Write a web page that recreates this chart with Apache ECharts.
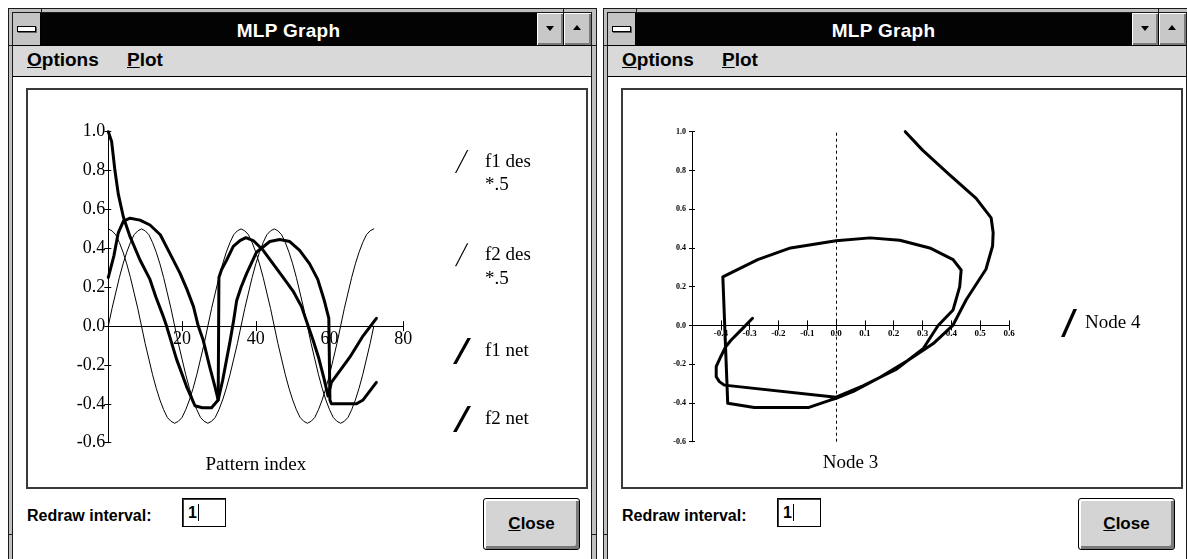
<!DOCTYPE html>
<html>
<head>
<meta charset="utf-8">
<title>MLP Graph</title>
<script src="https://cdn.jsdelivr.net/npm/echarts@6.0.0/dist/echarts.min.js"></script>
<style>
html,body{margin:0;padding:0;}
body{width:1187px;height:559px;overflow:hidden;background:#fff;position:relative;font-family:"Liberation Sans",Arial,sans-serif;}
.win{position:absolute;top:0;width:600px;height:559px;}
.a{position:absolute;box-sizing:border-box;}
.frame{left:8px;top:8px;width:589px;height:600px;background:#c0c0c0;border:1px solid #1a1a1a;}
.inner{left:12px;top:12px;width:580px;height:600px;background:#fff;border:1px solid #1a1a1a;}
.title{left:13px;top:13px;width:578px;height:32px;background:#030303;}
.sys{left:13px;top:13px;width:28px;height:32px;background:#c4c4c4;border-right:1px solid #000;}
.sysbar{left:4px;top:13px;width:19px;height:6px;background:#fff;border:1px solid #000;box-shadow:1px 1px 0 #606060;}
.caption{left:41px;top:13px;width:495px;height:32px;color:#fff;font-weight:bold;font-size:19px;line-height:32px;text-align:center;padding-top:2px;letter-spacing:0.3px;}
.btn{top:13px;height:32px;background:#c8c8c8;border-left:1px solid #000;box-shadow:inset 1px 1px 0 #fff,inset -2px -2px 0 #7a7a7a;}
.tri-d{left:9px;top:13px;width:0;height:0;border-left:4px solid transparent;border-right:4px solid transparent;border-top:5px solid #000;}
.tri-u{left:9px;top:12px;width:0;height:0;border-left:4px solid transparent;border-right:4px solid transparent;border-bottom:5px solid #000;}
.menu{left:13px;top:45px;width:578px;height:32px;background:#d9d9d9;border-top:1px solid #000;border-bottom:1px solid #000;}
.mtxt{top:50px;font-size:19px;font-weight:bold;line-height:20px;color:#000;white-space:nowrap;}
.panel{left:26px;top:88px;width:562px;height:401px;border:2px solid #3a3a3a;background:#fff;}
.lbl{left:27px;top:507px;font-size:16px;font-weight:bold;line-height:18px;color:#000;white-space:nowrap;}
.inp{left:182px;top:498px;width:44px;height:29px;border:1px solid #000;box-shadow:inset 1px 1px 0 #404040;background:#fff;font-size:16px;font-weight:bold;line-height:27px;padding-left:5px;color:#000;}
.caret{display:inline-block;width:1px;height:17px;background:#000;vertical-align:-3px;margin-left:1px;}
.close{left:483px;top:498px;width:97px;height:52px;background:#d4d4d4;border:1px solid #000;border-radius:3px;box-shadow:inset 2px 2px 0 #fff,inset -3px -3px 0 #7a7a7a;font-size:17px;font-weight:bold;line-height:50px;text-align:center;color:#000;}
.n{background:#1a1a1a;}
#chart{position:absolute;left:0;top:0;width:1187px;height:559px;z-index:10;}
</style>
</head>
<body>
<div id="chart"></div>
<script>
// ---------------- data ----------------
// left chart: pattern index 0..72, desired outputs scaled by 0.5
const f1DesHalf = [0,.09,.17,.25,.32,.38,.43,.47,.49,.5,.49,.47,.43,.38,.32,.25,.17,.09,
  0,-.09,-.17,-.25,-.32,-.38,-.43,-.47,-.49,-.5,-.49,-.47,-.43,-.38,-.32,-.25,-.17,-.09,
  0,.09,.17,.25,.32,.38,.43,.47,.49,.5,.49,.47,.43,.38,.32,.25,.17,.09,
  0,-.09,-.17,-.25,-.32,-.38,-.43,-.47,-.49,-.5,-.49,-.47,-.43,-.38,-.32,-.25,-.17,-.09,0];
const f2DesHalf = [.5,.49,.47,.43,.38,.32,.25,.17,.09,0,-.09,-.17,-.25,-.32,-.38,-.43,-.47,-.49,
  -.5,-.49,-.47,-.43,-.38,-.32,-.25,-.17,-.09,0,.09,.17,.25,.32,.38,.43,.47,.49,
  .5,.49,.47,.43,.38,.32,.25,.17,.09,0,-.09,-.17,-.25,-.32,-.38,-.43,-.47,-.49,
  -.5,-.49,-.47,-.43,-.38,-.32,-.25,-.17,-.09,0,.09,.17,.25,.32,.38,.43,.47,.49,.5];
// network outputs, [pattern index, value]
const f1Net = [[0,0.25],[1.5,0.36],[2.7,0.48],[4.1,0.54],[5.9,0.555],[8.6,0.545],[11.3,0.52],
  [14.1,0.47],[16.8,0.37],[19.5,0.27],[21.3,0.19],[23.1,0.10],[24.4,0.0],[25.7,-0.07],
  [27.5,-0.21],[28.9,-0.31],[29.8,-0.38],[31,-0.28],[32,-0.18],[33,-0.08],[34,0.03],
  [34.8,0.13],[36,0.2],[37.5,0.27],[40.2,0.38],[43.8,0.435],[46.5,0.445],[49.2,0.435],
  [51.9,0.39],[54.6,0.32],[56.8,0.24],[58.6,0.13],[59.8,0.04],[60.1,-0.38],[60.5,-0.40],
  [67.3,-0.40],[69.1,-0.38],[72.7,-0.29]];
const f2Net = [[0,1.0],[0.9,0.95],[1.8,0.80],[2.7,0.68],[4.1,0.56],[5.9,0.46],[8.6,0.34],
  [11.3,0.24],[12.9,0.15],[14.9,0.05],[15.8,0.0],[18.5,-0.17],[21.2,-0.31],[23.5,-0.41],
  [25.5,-0.42],[28,-0.42],[29.8,-0.38],[30,0.25],[30.7,0.29],[32.1,0.34],[33.9,0.41],
  [35.7,0.44],[37.3,0.455],[39.3,0.44],[42,0.39],[44.7,0.32],[47.4,0.25],[50.1,0.18],
  [52.4,0.10],[54.2,0.0],[55.5,-0.07],[57,-0.16],[58.5,-0.27],[59.6,-0.36],[60.5,-0.29],
  [65.5,-0.16],[69.1,-0.05],[72.7,0.04]];
// right chart: trajectory [Node 3, Node 4]
const node3vs4 = [[0.24,1.0],[0.30,0.905],[0.394,0.777],[0.486,0.656],[0.538,0.555],[0.545,0.48],
  [0.543,0.41],[0.52,0.29],[0.452,0.134],[0.405,0.0],[0.34,-0.09],[0.25,-0.18],[0.15,-0.27],
  [0.06,-0.34],[0.0,-0.376],[-0.02,-0.385],[-0.094,-0.423],[-0.284,-0.423],[-0.376,-0.402],
  [-0.393,0.251],[-0.272,0.34],[-0.158,0.40],[0.0,0.437],[0.118,0.452],[0.221,0.44],
  [0.325,0.40],[0.406,0.34],[0.434,0.286],[0.429,0.2],[0.406,0.08],[0.354,0.0],[0.302,-0.12],
  [0.21,-0.225],[0.095,-0.31],[0.0,-0.37],[-0.388,-0.308],[-0.405,-0.29],[-0.416,-0.265],
  [-0.416,-0.213],[-0.40,-0.16],[-0.383,-0.11],[-0.364,-0.075],[-0.33,-0.024],[-0.29,0.037]];
const leftNames = ['f1 des *.5','f2 des *.5','f1 net','f2 net'];
const rightName = 'Node 4';
const leftXName = 'Pattern index';
const rightXName = 'Node 3';

// ---------------- window chrome ----------------
function buildWindow(dx){
  const w = document.createElement('div');
  w.className = 'win';
  w.style.left = dx + 'px';
  w.innerHTML =
    '<div class="a frame"></div>' +
    '<div class="a n" style="left:41px;top:8px;width:1px;height:5px"></div>' +
    '<div class="a n" style="left:563px;top:8px;width:1px;height:5px"></div>' +
    '<div class="a n" style="left:8px;top:45px;width:5px;height:1px"></div>' +
    '<div class="a n" style="left:591px;top:45px;width:6px;height:1px"></div>' +
    '<div class="a n" style="left:8px;top:534px;width:5px;height:1px"></div>' +
    '<div class="a n" style="left:591px;top:534px;width:6px;height:1px"></div>' +
    '<div class="a inner"></div>' +
    '<div class="a title"></div>' +
    '<div class="a sys"><div class="a sysbar"></div></div>' +
    '<div class="a caption">MLP Graph</div>' +
    '<div class="a btn" style="left:536px;width:27px"><div class="a tri-d"></div></div>' +
    '<div class="a btn" style="left:563px;width:28px"><div class="a tri-u"></div></div>' +
    '<div class="a menu"></div>' +
    '<div class="a mtxt" style="left:27px"><u>O</u>ptions</div>' +
    '<div class="a mtxt" style="left:127px"><u>P</u>lot</div>' +
    '<div class="a panel"></div>' +
    '<div class="a lbl">Redraw interval:</div>' +
    '<div class="a inp">1<span class="caret"></span></div>' +
    '<div class="a close"><u>C</u>lose</div>';
  document.body.insertBefore(w, document.getElementById('chart'));
}
buildWindow(0);
buildWindow(595);

// ---------------- chart ----------------
const serif = '"Liberation Serif","Times New Roman",serif';
const blk = '#000';
const chart = echarts.init(document.getElementById('chart'), null, {renderer: 'canvas'});

function fmt1(v){ return (Math.abs(v) < 1e-9 ? 0 : v).toFixed(1); }

// geometry of the two plot areas (pixels)
const L = {left: 108.3, top: 131.7, width: 295, height: 311, zeroY: 326.1};
const R = {left: 692, top: 131.7, width: 317, height: 310, zeroY: 325.4};

function hiddenX(grid, min, max){
  return {gridIndex: grid, type: 'value', min: min, max: max, show: false};
}
function hiddenY(grid, min, max){
  return {gridIndex: grid, type: 'value', min: min, max: max, show: false};
}
function shownX(grid, min, max, interval, position, label, extra){
  return Object.assign({
    gridIndex: grid, type: 'value', min: min, max: max, interval: interval, position: position,
    axisLine: {show: true, onZero: false, lineStyle: {color: blk, width: 1}},
    axisTick: {show: true, inside: false, length: 5, lineStyle: {color: blk, width: 1}},
    axisLabel: label,
    splitLine: {show: false}
  }, extra || {});
}
function shownY(grid, inside, len, label){
  return {
    gridIndex: grid, type: 'value', min: -0.6, max: 1.0, interval: 0.2, position: 'left',
    axisLine: {show: true, onZero: false, lineStyle: {color: blk, width: 1}},
    axisTick: {show: true, inside: inside, length: len, lineStyle: {color: blk, width: 1}},
    axisLabel: label,
    splitLine: {show: false}
  };
}
function lineSeries(name, data, width, xi, yi){
  return {
    name: name, type: 'line', data: data, xAxisIndex: xi, yAxisIndex: yi,
    symbol: 'none', showSymbol: false, clip: false, silent: true,
    emphasis: {disabled: true},
    lineStyle: {color: blk, width: width, join: 'round', cap: 'round'},
    itemStyle: {color: blk}
  };
}
function legendItem(name, left, top, w, h, path, lineHeight){
  return {
    data: [name], left: left, top: top, orient: 'vertical', padding: 0,
    itemWidth: w, itemHeight: h, icon: path, selectedMode: false,
    itemStyle: {color: blk, borderWidth: 0},
    formatter: function(n){ return n.replace(' *.5', '\n*.5'); },
    textStyle: {color: blk, fontFamily: serif, fontSize: 19, lineHeight: lineHeight}
  };
}
const thinIcon = 'path://M0,0M2,23L3.3,23L15.3,0L14,0ZM27,47';
const thickIcon = 'path://M0,0M0,26L3.6,26L18,0L14.4,0ZM27,26';
const nodeIcon = 'path://M0,0M0,28L3.6,28L16,0L12.4,0ZM19,28';

const gridBase = {outerBoundsMode: 'none', containLabel: false};
const option = {
  animation: false,
  backgroundColor: 'transparent',
  grid: [
    Object.assign({left: L.left, top: L.top, width: L.width, height: L.height}, gridBase),
    Object.assign({left: R.left, top: R.top, width: R.width, height: R.height}, gridBase),
    // upper / lower halves: used only to draw the zero-line axes with crossing ticks
    Object.assign({left: L.left, top: L.top, width: L.width, height: L.zeroY - L.top}, gridBase),
    Object.assign({left: L.left, top: L.zeroY, width: L.width, height: L.top + L.height - L.zeroY}, gridBase),
    Object.assign({left: R.left, top: R.top, width: R.width, height: R.zeroY - R.top}, gridBase),
    Object.assign({left: R.left, top: R.zeroY, width: R.width, height: R.top + R.height - R.zeroY}, gridBase)
  ],
  xAxis: [
    hiddenX(0, 0, 80),
    hiddenX(1, -0.5, 0.6),
    shownX(2, 0, 80, 20, 'bottom',
      {show: true, margin: 4, color: blk, fontFamily: serif, fontSize: 18,
       formatter: function(v){ return v === 0 ? '' : String(v); }},
      {name: leftXName, nameLocation: 'middle', nameGap: 129,
       nameTextStyle: {color: blk, fontFamily: serif, fontSize: 19}}),
    shownX(3, 0, 80, 20, 'top', {show: false}),
    shownX(4, -0.5, 0.6, 0.1, 'bottom',
      {show: true, margin: 4, color: blk, fontFamily: serif, fontSize: 9, fontWeight: 'bold',
       formatter: function(v){ return Math.abs(v + 0.5) < 1e-9 ? '' : fmt1(v); }},
      {name: rightXName, nameLocation: 'middle', nameGap: 128,
       nameTextStyle: {color: blk, fontFamily: serif, fontSize: 19}}),
    shownX(5, -0.5, 0.6, 0.1, 'top', {show: false})
  ],
  yAxis: [
    shownY(0, false, 4, {show: true, margin: 3, color: blk, fontFamily: serif, fontSize: 18, formatter: fmt1}),
    shownY(0, true, 3, {show: false}),
    shownY(1, false, 3, {show: true, margin: 6, color: blk, fontFamily: serif, fontSize: 8, fontWeight: 'bold', formatter: fmt1}),
    shownY(1, true, 3, {show: false}),
    hiddenY(2, 0, 1), hiddenY(3, 0, 1), hiddenY(4, 0, 1), hiddenY(5, 0, 1)
  ],
  legend: [
    legendItem(leftNames[0], 453, 150, 27, 47, thinIcon, 23.5),
    legendItem(leftNames[1], 453, 243.3, 27, 47, thinIcon, 23.5),
    legendItem(leftNames[2], 453, 338, 27, 26, thickIcon, 22),
    legendItem(leftNames[3], 453, 406, 27, 26, thickIcon, 22),
    legendItem(rightName, 1061, 309, 19, 28, nodeIcon, 22)
  ],
  series: [
    lineSeries(leftNames[0], f1DesHalf.map(function(v, i){ return [i, v]; }), 1, 0, 0),
    lineSeries(leftNames[1], f2DesHalf.map(function(v, i){ return [i, v]; }), 1, 0, 0),
    lineSeries(leftNames[2], f1Net, 3, 0, 0),
    lineSeries(leftNames[3], f2Net, 3, 0, 0),
    Object.assign(lineSeries(rightName, node3vs4, 3, 1, 2), {
      markLine: {
        silent: true, symbol: ['none', 'none'], animation: false,
        label: {show: false}, emphasis: {disabled: true},
        lineStyle: {color: blk, width: 1, type: [3, 3]},
        data: [{xAxis: 0}]
      }
    })
  ]
};
chart.setOption(option);
</script>
</body>
</html>
